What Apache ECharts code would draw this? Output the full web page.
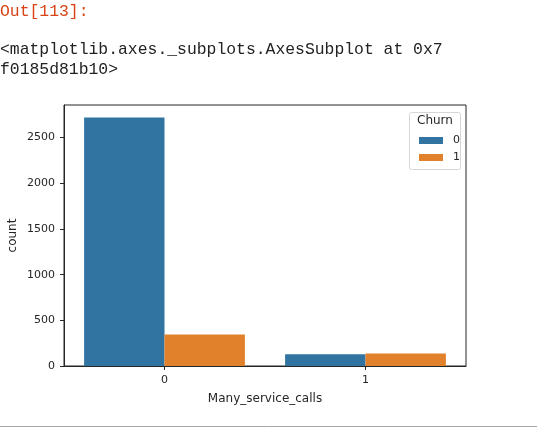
<!DOCTYPE html>
<html><head><meta charset="utf-8">
<script src="https://cdn.jsdelivr.net/npm/echarts@6/dist/echarts.min.js"></script>
<style>html,body{margin:0;padding:0;background:#fff}#c{width:548px;height:441px}</style>
</head><body><div id="c"></div>
<script>
const categories = ['0', '1'];
const churn0 = [2721, 129];
const churn1 = [345, 138];
const yTicks = [0, 500, 1000, 1500, 2000, 2500];
const seriesNames = ['0', '1'];
const legendTitle = 'Churn';
const xName = 'Many_service_calls';
const yName = 'count';
const outLabel = 'Out[113]:';
const reprLines = ['<matplotlib.axes._subplots.AxesSubplot at 0x7', 'f0185d81b10>'];

const ink = '#262626';
const chart = echarts.init(document.getElementById('c'), null, {renderer: 'canvas'});
chart.setOption({
  animation: false,
  backgroundColor: '#fff',
  textStyle: {fontFamily: 'DejaVu Sans'},
  grid: {left: 64, right: 82, top: 105, bottom: 75, show: true, borderColor: ink, borderWidth: 1,
         containLabel: false, outerBoundsMode: 'none'},
  xAxis: {
    type: 'category', data: categories, boundaryGap: true,
    name: xName, nameLocation: 'middle', nameGap: 27, nameMoveOverlap: false,
    nameTextStyle: {color: ink, fontSize: 12, fontFamily: 'DejaVu Sans'},
    axisLine: {show: true, lineStyle: {color: ink, width: 1}},
    axisTick: {show: true, alignWithLabel: true, length: 4, lineStyle: {color: ink}},
    axisLabel: {color: ink, fontSize: 11, margin: 9, fontFamily: 'DejaVu Sans'},
    splitLine: {show: false}
  },
  yAxis: {
    type: 'value', min: 0, max: 2857, interval: 500,
    name: yName, nameLocation: 'middle', nameGap: 45, nameRotate: 90, nameMoveOverlap: false,
    nameTextStyle: {color: ink, fontSize: 12, fontFamily: 'DejaVu Sans'},
    axisLine: {show: true, lineStyle: {color: ink, width: 1}},
    axisTick: {show: true, length: 4, lineStyle: {color: ink}, customValues: yTicks},
    axisLabel: {color: ink, fontSize: 11, margin: 9, fontFamily: 'DejaVu Sans', customValues: yTicks,
      formatter: v => String(v)},
    splitLine: {show: false}
  },
  legend: {
    orient: 'vertical', left: 414, top: 130, icon: 'rect',
    itemWidth: 24, itemHeight: 7, itemGap: 6,
    data: seriesNames,
    textStyle: {color: ink, fontSize: 11, fontFamily: 'DejaVu Sans', padding: [0, 0, 0, 5]},
    selectedMode: false
  },
  series: [
    {name: seriesNames[0], type: 'bar', data: churn0, barGap: '0%', barCategoryGap: '20%',
     itemStyle: {color: '#3274a1'}},
    {name: seriesNames[1], type: 'bar', data: churn1, barGap: '0%', barCategoryGap: '20%',
     itemStyle: {color: '#e1812c'}}
  ],
  graphic: [
    {type: 'rect', left: 409, top: 112, z: -1, shape: {width: 51, height: 57, r: 2},
     style: {fill: 'rgba(255,255,255,0.8)', stroke: '#d6d6d6', lineWidth: 1}},
    {type: 'text', left: 417, top: 115, style: {text: legendTitle, fill: ink, fontSize: 12, fontFamily: 'DejaVu Sans'}},
    {type: 'text', left: 0, top: 4, style: {text: outLabel, fill: '#d84315', fontSize: 16.4, fontFamily: 'Liberation Mono'}},
    {type: 'text', left: 0, top: 42, style: {text: reprLines[0], fill: '#222', fontSize: 16.4, fontFamily: 'Liberation Mono'}},
    {type: 'text', left: 0, top: 62, style: {text: reprLines[1], fill: '#222', fontSize: 16.4, fontFamily: 'Liberation Mono'}},
    {type: 'line', shape: {x1: 0, y1: 426.5, x2: 537, y2: 426.5}, style: {stroke: '#a8a8a8', lineWidth: 1}}
  ]
});
</script></body></html>
